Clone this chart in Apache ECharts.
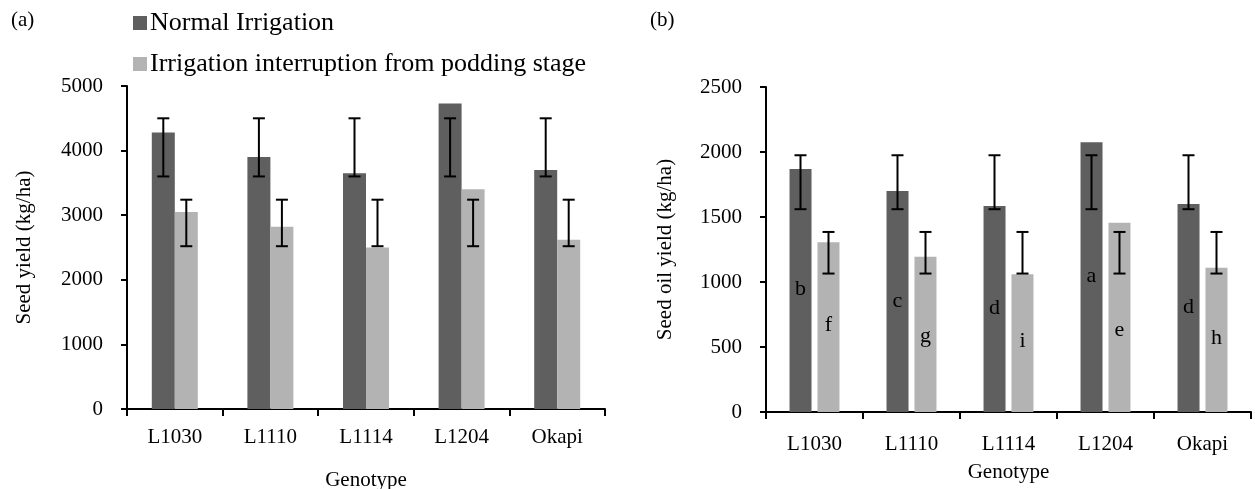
<!DOCTYPE html>
<html>
<head>
<meta charset="utf-8">
<script src="https://cdn.jsdelivr.net/npm/echarts@6/dist/echarts.min.js"></script>
<style>
  html, body { margin: 0; padding: 0; background: #fff; }
  #chart { width: 1255px; height: 489px; }
</style>
</head>
<body>
<div id="chart"></div>
<script>
const genotypes = ['L1030', 'L1110', 'L1114', 'L1204', 'Okapi']
const seriesNames = ['Normal Irrigation', 'Irrigation interruption from podding stage']

// (a) seed yield, kg/ha
const seedNormal = [4280, 3900, 3650, 4730, 3700]
const seedInterrupt = [3050, 2820, 2500, 3400, 2620]
const seedNormalErr = [[3600, 4500], [3600, 4500], [3600, 4500], [3600, 4500], [3600, 4500]]
const seedInterruptErr = [[2520, 3240], [2520, 3240], [2520, 3240], [2520, 3240], [2520, 3240]]

// (b) seed oil yield, kg/ha
const oilNormal = [1870, 1700, 1585, 2075, 1600]
const oilInterrupt = [1305, 1195, 1060, 1455, 1110]
const oilNormalErr = [[1560, 1975], [1560, 1975], [1560, 1975], [1560, 1975], [1560, 1975]]
const oilInterruptErr = [[1065, 1385], [1065, 1385], [1065, 1385], [1065, 1385], [1065, 1385]]

// significance letters and the heights they sit at
const oilNormalLetters = ['b', 'c', 'd', 'a', 'd']
const oilInterruptLetters = ['f', 'g', 'i', 'e', 'h']
const oilNormalLetterY = [945, 850, 800, 1045, 805]
const oilInterruptLetterY = [670, 585, 545, 630, 565]

const DARK = '#5f5f5f'
const LIGHT = '#b3b3b3'
const FONT = 'Liberation Serif'
const FS = 21

const chart = echarts.init(document.getElementById('chart'))

// error bar drawn at a fixed pixel offset from the category centre
const errorSeries = (ranges, xIdx, yIdx, offset) => ({
  type: 'custom',
  xAxisIndex: xIdx,
  yAxisIndex: yIdx,
  silent: true,
  z: 10,
  data: ranges.map((r, i) => [i, r[0], r[1]]),
  renderItem: (params, api) => {
    const lo = api.coord([api.value(0), api.value(1)])
    const hi = api.coord([api.value(0), api.value(2)])
    const x = lo[0] + offset
    const cap = 6
    const style = { stroke: '#000', lineWidth: 2 }
    return {
      type: 'group',
      children: [
        { type: 'line', shape: { x1: x, y1: lo[1], x2: x, y2: hi[1] }, style },
        { type: 'line', shape: { x1: x - cap, y1: lo[1], x2: x + cap, y2: lo[1] }, style },
        { type: 'line', shape: { x1: x - cap, y1: hi[1], x2: x + cap, y2: hi[1] }, style }
      ]
    }
  }
})

const letterSeries = (letters, ys, offset) => ({
  type: 'custom',
  xAxisIndex: 1,
  yAxisIndex: 1,
  silent: true,
  z: 11,
  data: ys.map((y, i) => [i, y]),
  renderItem: (params, api) => {
    const p = api.coord([api.value(0), api.value(1)])
    return {
      type: 'text',
      x: p[0] + offset,
      y: p[1],
      style: {
        text: letters[params.dataIndex],
        fill: '#000',
        font: '22px "' + FONT + '"',
        align: 'center',
        verticalAlign: 'middle'
      }
    }
  }
})

const catAxis = (grid, nameGap, labelMargin) => ({
  type: 'category',
  gridIndex: grid,
  data: genotypes,
  name: 'Genotype',
  nameLocation: 'middle',
  nameGap: nameGap,
  nameTextStyle: { color: '#000', fontFamily: FONT, fontSize: FS },
  axisLine: { lineStyle: { color: '#000', width: 2 } },
  axisTick: { show: true, length: 7, lineStyle: { color: '#000', width: 2 } },
  axisLabel: { color: '#000', fontFamily: FONT, fontSize: FS, margin: labelMargin },
  splitLine: { show: false }
})

const valAxis = (grid, max, interval, name, nameGap) => ({
  type: 'value',
  gridIndex: grid,
  min: 0,
  max: max,
  interval: interval,
  name: name,
  nameLocation: 'middle',
  nameRotate: 90,
  nameGap: nameGap,
  nameTextStyle: { color: '#000', fontFamily: FONT, fontSize: FS },
  axisLine: { show: true, lineStyle: { color: '#000', width: 2 } },
  axisTick: { show: true, length: 6, lineStyle: { color: '#000', width: 2 } },
  axisLabel: { color: '#000', fontFamily: FONT, fontSize: FS, margin: 24, formatter: v => String(v) },
  splitLine: { show: false }
})

const option = {
  animation: false,
  backgroundColor: '#fff',
  textStyle: { fontFamily: FONT },
  title: [
    { text: '(a)', left: 6, top: 5, textStyle: { color: '#000', fontFamily: FONT, fontSize: FS, fontWeight: 'normal' } },
    { text: '(b)', left: 645, top: 5, textStyle: { color: '#000', fontFamily: FONT, fontSize: FS, fontWeight: 'normal' } }
  ],
  legend: {
    orient: 'vertical',
    left: 128,
    top: 5,
    itemWidth: 14,
    itemHeight: 14,
    itemGap: 15,
    icon: 'rect',
    data: seriesNames,
    textStyle: { color: '#000', fontFamily: FONT, fontSize: 26, padding: [0, 0, 0, -2] }
  },
  grid: [
    { left: 127, top: 86, width: 478, height: 323, outerBoundsMode: 'none' },
    { left: 766, top: 87, width: 485, height: 325, outerBoundsMode: 'none' }
  ],
  xAxis: [catAxis(0, 61, 18), catAxis(1, 50, 22)],
  yAxis: [
    valAxis(0, 5000, 1000, 'Seed yield (kg/ha)', 92),
    valAxis(1, 2500, 500, 'Seed oil yield (kg/ha)', 90)
  ],
  series: [
    { name: seriesNames[0], type: 'bar', xAxisIndex: 0, yAxisIndex: 0, data: seedNormal, barWidth: 23, barGap: '0%', itemStyle: { color: DARK } },
    { name: seriesNames[1], type: 'bar', xAxisIndex: 0, yAxisIndex: 0, data: seedInterrupt, barWidth: 23, barGap: '0%', itemStyle: { color: LIGHT } },
    { name: seriesNames[0], type: 'bar', xAxisIndex: 1, yAxisIndex: 1, data: oilNormal, barWidth: 22, barGap: '27%', itemStyle: { color: DARK } },
    { name: seriesNames[1], type: 'bar', xAxisIndex: 1, yAxisIndex: 1, data: oilInterrupt, barWidth: 22, barGap: '27%', itemStyle: { color: LIGHT } },
    errorSeries(seedNormalErr, 0, 0, -11.5),
    errorSeries(seedInterruptErr, 0, 0, 11.5),
    errorSeries(oilNormalErr, 1, 1, -14),
    errorSeries(oilInterruptErr, 1, 1, 14),
    letterSeries(oilNormalLetters, oilNormalLetterY, -14),
    letterSeries(oilInterruptLetters, oilInterruptLetterY, 14)
  ]
}

chart.setOption(option)
</script>
</body>
</html>
